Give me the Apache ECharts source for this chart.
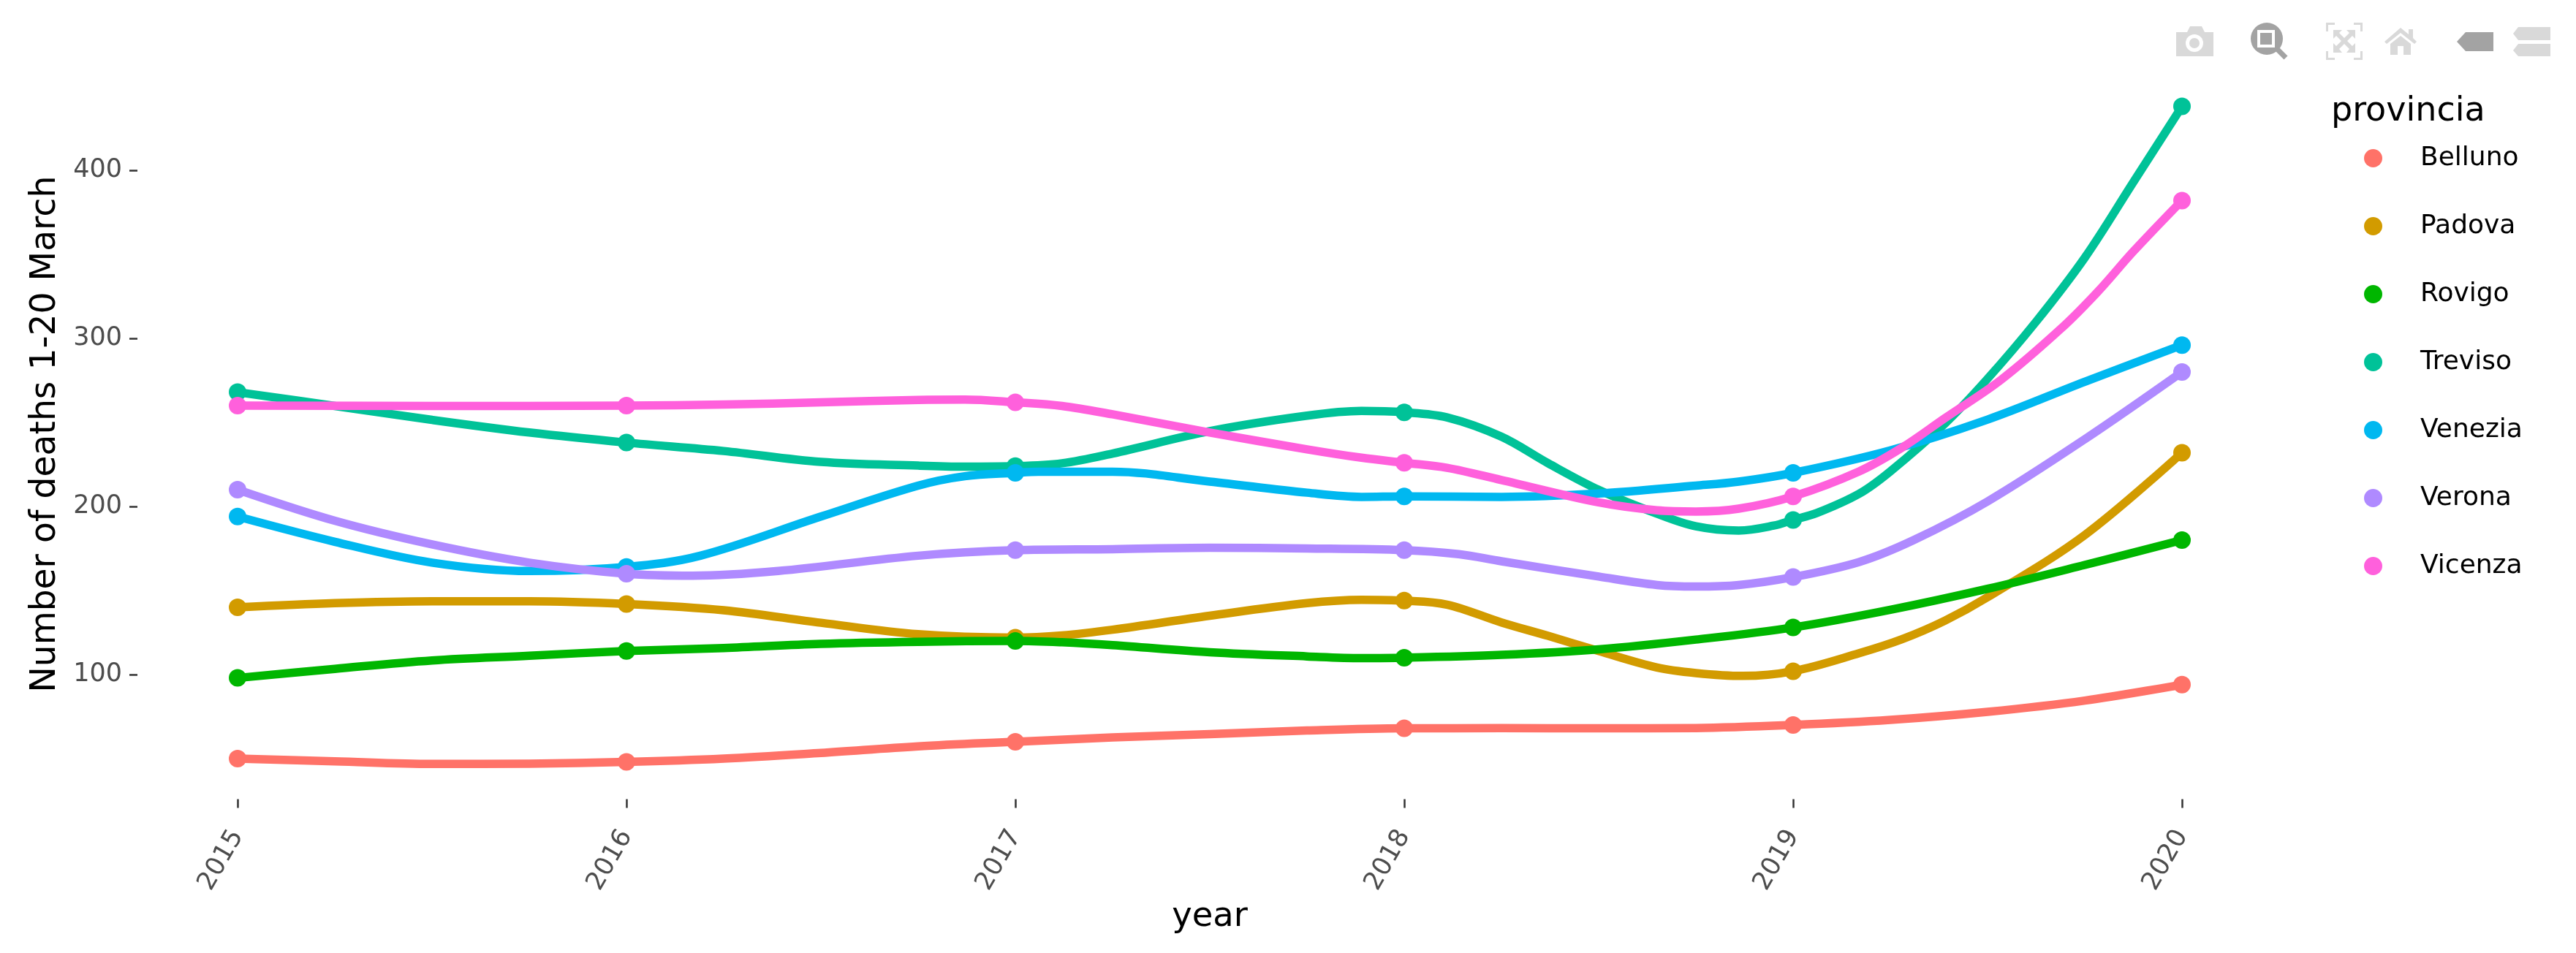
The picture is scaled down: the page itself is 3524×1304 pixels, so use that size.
<!DOCTYPE html>
<html><head><meta charset="utf-8">
<style>html,body{margin:0;padding:0;background:#fff}#c{width:3524px;height:1304px}</style>
<script src="https://cdn.jsdelivr.net/npm/echarts@6/dist/echarts.min.js"></script>
</head><body><div id="c"></div>
<script>
const years = [2015, 2016, 2017, 2018, 2019, 2020];
const yTicks = [100, 200, 300, 400];
const provinces = ['Belluno', 'Padova', 'Rovigo', 'Treviso', 'Venezia', 'Verona', 'Vicenza'];
const colors = ['#FF7268', '#D29B00', '#00B600', '#00C298', '#00B8F0', '#AF8AFF', '#FF60DC'];

// values at the yearly markers
const belluno = [50, 48, 60, 68, 70, 94];
const padova  = [140, 142, 122, 144, 102, 232];
const rovigo  = [98, 114, 120, 110, 128, 180];
const treviso = [268, 238, 224, 256, 192, 438];
const venezia = [194, 164, 220, 206, 220, 296];
const verona  = [210, 160, 174, 174, 158, 280];
const vicenza = [260, 260, 262, 226, 206, 382];

// points read along the smoothed curves between the markers
const bellunoCurve = [[2015.25,48.4],[2015.5,46.8],[2015.75,47],[2016.25,50],[2016.5,53.4],[2016.75,57.3],[2017.25,62.6],[2017.5,64.6],[2017.75,66.7],[2018.25,68.1],[2018.5,68],[2018.75,68.2],[2019.25,73],[2019.5,77.8],[2019.75,84.5]];
const padovaCurve = [[2015.25,142.5],[2015.5,143.6],[2015.75,143.6],[2016.25,138.3],[2016.5,130.8],[2016.75,124],[2017.12,123.3],[2017.25,126.7],[2017.5,135],[2017.75,142.5],[2017.89,144.5],[2018.11,141.6],[2018.25,131],[2018.37,123],[2018.5,114],[2018.65,104.2],[2018.75,100.9],[2018.87,99.2],[2019.17,112.7],[2019.28,121],[2019.39,132],[2019.5,146],[2019.75,183]];
const rovigoCurve = [[2015.25,103.4],[2015.5,108.4],[2015.75,111.2],[2016.25,115.8],[2016.5,118.3],[2016.75,119.5],[2017.12,119.2],[2017.25,117.5],[2017.5,113.3],[2017.75,110.8],[2017.89,109.8],[2018.25,111.7],[2018.5,115],[2018.75,120.8],[2019.25,138.5],[2019.5,151],[2019.75,165.2]];
const trevisoCurve = [[2015.25,259.8],[2015.5,251.5],[2015.75,244],[2016.25,233],[2016.5,226.5],[2016.75,224.3],[2016.87,223.7],[2017.12,225.7],[2017.25,231.5],[2017.5,244.8],[2017.75,254],[2017.89,256.8],[2018.11,253],[2018.25,241.5],[2018.37,225.7],[2018.5,209.9],[2018.65,195.7],[2018.75,188.2],[2018.86,185.7],[2018.95,188.6],[2019.06,196],[2019.17,207.6],[2019.25,220.9],[2019.39,249.2],[2019.497,275.2],[2019.625,310],[2019.75,348],[2019.875,393]];
const veneziaCurve = [[2015.25,179],[2015.5,166.6],[2015.75,161.6],[2016.19,170.7],[2016.5,194],[2016.75,212.4],[2016.87,218],[2017.06,220.7],[2017.25,220.7],[2017.5,214.8],[2017.75,208.2],[2017.89,205.7],[2018.25,205.7],[2018.5,207.7],[2018.75,212.4],[2018.86,214.8],[2019.25,233.4],[2019.5,251.7],[2019.75,274.2]];
const veronaCurve = [[2015.25,191.5],[2015.5,177.4],[2015.75,166.6],[2016.17,158.8],[2016.39,161.6],[2016.75,170.7],[2017.25,174.6],[2017.5,175.4],[2017.75,175],[2018.14,171.6],[2018.25,167.4],[2018.5,158.3],[2018.65,153.3],[2018.75,152.4],[2018.86,153.3],[2019.17,167],[2019.31,180],[2019.5,203],[2019.75,240]];
const vicenzaCurve = [[2015.5,259.8],[2015.75,259.8],[2016.25,260.6],[2016.5,262],[2016.75,263.4],[2016.87,263.6],[2017.12,259.8],[2017.25,254.8],[2017.5,244],[2017.75,234],[2017.89,229],[2018.11,223],[2018.25,215.7],[2018.5,202.4],[2018.65,197.7],[2018.75,197],[2018.86,198.7],[2019.17,220.9],[2019.28,235],[2019.39,252.5],[2019.534,275.2],[2019.688,305.6],[2019.782,327.4],[2019.876,352]];

const marks = [belluno, padova, rovigo, treviso, venezia, verona, vicenza];
const curves = [bellunoCurve, padovaCurve, rovigoCurve, trevisoCurve, veneziaCurve, veronaCurve, vicenzaCurve];

const FONT = 'DejaVu Sans';
const series = [];
provinces.forEach((name, i) => {
  const pts = years.map((y, k) => [y, marks[i][k]]);
  const line = pts.concat(curves[i]).sort((a, b) => a[0] - b[0]);
  series.push({ name, type: 'line', data: line, smooth: 0.35, showSymbol: false, symbol: 'none',
    lineStyle: { width: 11.5, color: colors[i], cap: 'round', join: 'round' },
    itemStyle: { color: colors[i] }, z: 2 + i * 0.01, silent: true, clip: false });
  series.push({ name, type: 'scatter', data: pts, symbol: 'circle', symbolSize: 24,
    itemStyle: { color: colors[i], opacity: 1 }, z: 2 + i * 0.01 + 0.005, silent: true, clip: false });
});

const L = '#d9d9d9', D = '#a3a3a3';
const icon = (points, fill) => ({ type: 'polygon', shape: { points }, style: { fill }, silent: true });
const toolbar = [
  // camera
  icon([[2977,44],[2992,44],[2996,36],[3012,36],[3016,44],[3028,44],[3028,77],[2977,77]], L),
  { type: 'circle', shape: { cx: 3002, cy: 59, r: 12 }, style: { fill: '#fff' }, silent: true },
  { type: 'circle', shape: { cx: 3002, cy: 59, r: 7 }, style: { fill: L }, silent: true },
  // zoom glass
  { type: 'line', shape: { x1: 3112, y1: 64, x2: 3127, y2: 79 }, style: { stroke: D, lineWidth: 7 }, silent: true },
  { type: 'circle', shape: { cx: 3101, cy: 53, r: 22 }, style: { fill: D }, silent: true },
  { type: 'rect', shape: { x: 3088, y: 41, width: 24, height: 24 }, style: { fill: '#fff' }, silent: true },
  { type: 'rect', shape: { x: 3092, y: 45, width: 16, height: 16 }, style: { fill: D }, silent: true },
  // autoscale corners and arrows
  icon([[3182,31],[3194,31],[3194,34],[3185,34],[3185,43],[3182,43]], L),
  icon([[3220,31],[3232,31],[3232,43],[3229,43],[3229,34],[3220,34]], L),
  icon([[3182,70],[3185,70],[3185,79],[3194,79],[3194,82],[3182,82]], L),
  icon([[3229,70],[3232,70],[3232,82],[3220,82],[3220,79],[3229,79]], L),
  icon([[3192,41],[3204,41],[3200,45],[3207,52],[3214,45],[3210,41],[3222,41],[3222,53],[3218,49],[3211,56],[3218,63],[3222,59],[3222,72],[3210,72],[3214,67],[3207,60],[3200,67],[3204,72],[3192,72],[3192,59],[3196,63],[3203,56],[3196,49],[3192,53]], L),
  // home
  icon([[3284,38],[3295,47],[3295,40],[3301,40],[3301,52],[3306,57],[3303,60],[3284,45],[3265,60],[3262,57]], L),
  icon([[3270,60],[3284,49],[3298,60],[3298,75],[3288,75],[3288,63],[3280,63],[3280,75],[3270,75]], L),
  // spike tag
  icon([[3361,57],[3373,44],[3411,44],[3411,70],[3373,70]], D),
  // compare tags
  icon([[3438,46],[3445,37],[3489,37],[3489,55],[3445,55]], L),
  icon([[3438,69],[3445,60],[3489,60],[3489,77],[3445,77]], L),
  // legend title
  { type: 'text', x: 3189, y: 153, style: { text: 'provincia', font: '46px "DejaVu Sans"', fill: '#000', verticalAlign: 'middle' }, silent: true }
];

const chart = echarts.init(document.getElementById('c'), null, { renderer: 'canvas' });
chart.setOption({
  animation: false,
  backgroundColor: '#fff',
  textStyle: { fontFamily: FONT },
  grid: { left: 192, top: 100.75, width: 2926, height: 986.7, containLabel: false },
  xAxis: {
    type: 'value', min: 2014.75, max: 2020.25, offset: 6,
    name: 'year', nameLocation: 'middle', nameGap: 134,
    nameTextStyle: { fontSize: 46.5, color: '#000', fontFamily: FONT },
    axisLine: { show: false }, splitLine: { show: false },
    axisTick: { show: true, length: 12, customValues: years, lineStyle: { color: '#333', width: 2.5 } },
    axisLabel: { rotate: 60, fontSize: 35, color: '#4d4d4d', margin: 45, customValues: years, fontFamily: FONT,
      formatter: v => String(v) }
  },
  yAxis: {
    type: 'value', min: 28.5, max: 457.5, offset: 4,
    name: 'Number of deaths 1-20 March', nameLocation: 'middle', nameGap: 102,
    nameTextStyle: { fontSize: 47.2, color: '#000', fontFamily: FONT },
    axisLine: { show: false }, splitLine: { show: false },
    axisTick: { show: true, length: 11, customValues: yTicks, lineStyle: { color: '#333', width: 2.5 } },
    axisLabel: { fontSize: 35, color: '#4d4d4d', margin: 21, customValues: yTicks, fontFamily: FONT }
  },
  legend: {
    orient: 'vertical', left: 3229, top: 193.5, itemWidth: 25, itemHeight: 25, itemGap: 57,
    icon: 'circle', data: provinces, selectedMode: false,
    textStyle: { fontSize: 36, color: '#000', fontFamily: FONT, padding: [0, 0, 0, 47], lineHeight: 23 }
  },
  graphic: { elements: toolbar },
  series
});
</script></body></html>
